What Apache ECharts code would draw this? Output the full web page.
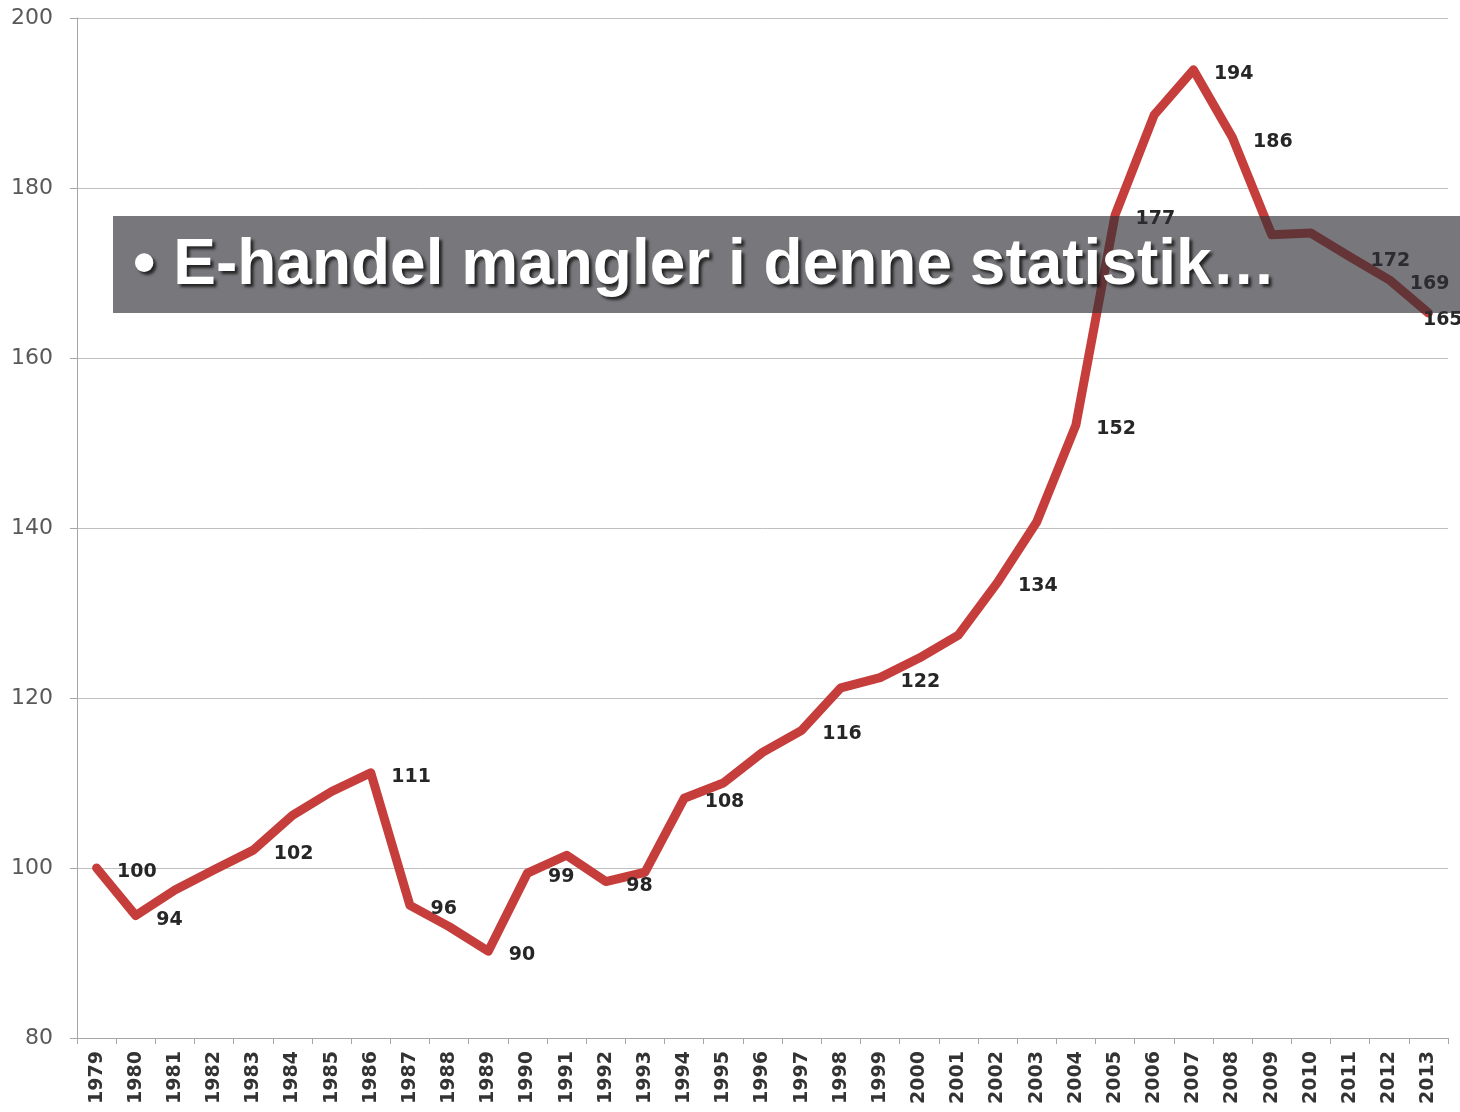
<!DOCTYPE html>
<html>
<head>
<meta charset="utf-8">
<script src="https://cdn.jsdelivr.net/npm/echarts@6/dist/echarts.min.js"></script>
<style>
  html, body { margin: 0; padding: 0; background: #fff; }
  #chart { width: 1460px; height: 1112px; }
</style>
</head>
<body>
<div id="chart"></div>
<script>
const years = ['1979','1980','1981','1982','1983','1984','1985','1986','1987','1988',
  '1989','1990','1991','1992','1993','1994','1995','1996','1997','1998',
  '1999','2000','2001','2002','2003','2004','2005','2006','2007','2008',
  '2009','2010','2011','2012','2013'];
const index = [100, 94.4, 97.4, 99.8, 102.1, 106.2, 109.0, 111.2, 95.6, 93.1,
  90.2, 99.4, 101.5, 98.4, 99.5, 108.2, 110.0, 113.6, 116.2, 121.2,
  122.4, 124.7, 127.4, 133.6, 140.7, 152.1, 176.8, 188.6, 193.9, 185.9,
  174.5, 174.7, 171.9, 169.2, 165.3];
// years that carry a value label in the original
const labeledYears = ['1979','1980','1983','1986','1987','1989','1990','1992','1994',
  '1997','1999','2002','2004','2005','2007','2008','2011','2012','2013'];
const yTicks = { min: 80, max: 200, interval: 20 };
const note = '• E-handel mangler i denne statistik…';

const chart = echarts.init(document.getElementById('chart'));

const seriesData = index.map((v, i) => {
  const y = years[i];
  if (!labeledYears.includes(y)) return v;
  const item = { value: v, label: { show: true } };
  // last label got squeezed against the edge in the original
  if (y === '2013') item.label = { show: true, position: [-5, -2] };
  return item;
});

chart.setOption({
  animation: false,
  grid: { left: 77, right: 12, top: 18, bottom: 74, containLabel: false },
  xAxis: {
    type: 'category',
    data: years,
    boundaryGap: true,
    axisLine: { lineStyle: { color: '#a6a6a6', width: 1 } },
    axisTick: { show: true, interval: 0, length: 6, lineStyle: { color: '#a6a6a6' } },
    axisLabel: {
      interval: 0, rotate: 90, margin: 13,
      fontFamily: 'DejaVu Sans', fontWeight: 'bold', fontSize: 19, color: '#333'
    },
    splitLine: { show: false }
  },
  yAxis: {
    type: 'value',
    min: yTicks.min, max: yTicks.max, interval: yTicks.interval,
    axisLine: { show: true, lineStyle: { color: '#a6a6a6', width: 1 } },
    axisTick: { show: true, length: 7, lineStyle: { color: '#a6a6a6' } },
    axisLabel: { margin: 24, fontFamily: 'DejaVu Sans', fontSize: 22, color: '#595959' },
    splitLine: { lineStyle: { color: '#bfbfbf', width: 1 } }
  },
  series: [{
    type: 'line',
    data: seriesData,
    symbol: 'circle',
    symbolSize: 1,
    showSymbol: true,
    itemStyle: { color: 'rgba(0,0,0,0)' },
    lineStyle: { color: '#c63e3b', width: 9, join: 'round', cap: 'round' },
    label: {
      show: false,
      position: [21, -5],
      fontFamily: 'DejaVu Sans', fontWeight: 'bold', fontSize: 19, color: '#262626',
      formatter: p => Math.round(p.value)
    },
    labelLayout: { hideOverlap: false }
  }],
  graphic: [{
    type: 'rect',
    z: 100,
    zlevel: 1,
    shape: { x: 113, y: 216, width: 1347, height: 97 },
    style: { fill: 'rgba(48,48,54,0.65)' }
  }, {
    type: 'text',
    z: 101,
    zlevel: 1,
    x: 133, y: 266,
    style: {
      text: note,
      font: 'bold 64px "Liberation Sans", Arial, sans-serif',
      fill: '#fff',
      textVerticalAlign: 'middle',
      textShadowColor: 'rgba(0,0,0,0.7)',
      textShadowBlur: 3,
      textShadowOffsetX: 3,
      textShadowOffsetY: 3
    }
  }]
});
</script>
</body>
</html>
